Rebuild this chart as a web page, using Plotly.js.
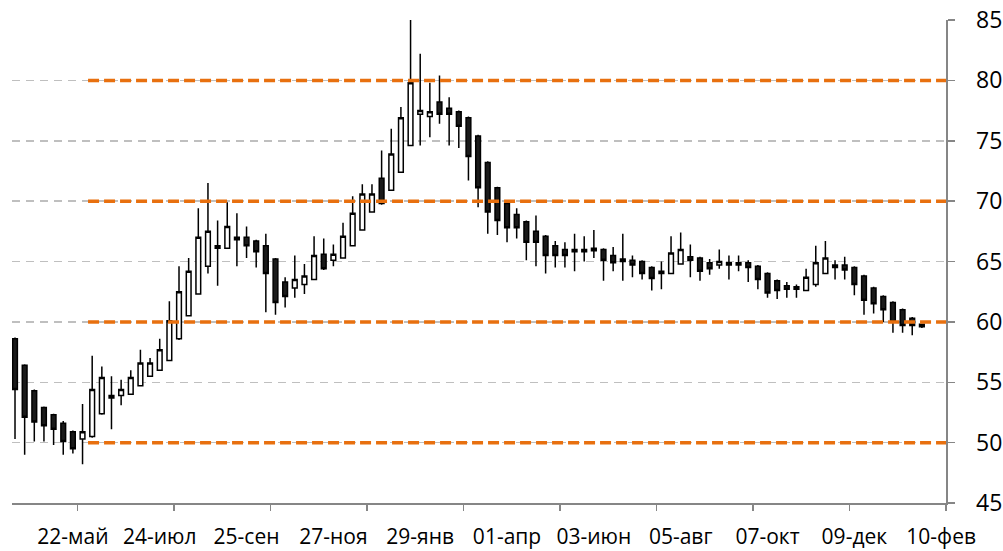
<!DOCTYPE html>
<html>
<head>
<meta charset="utf-8">
<script src="https://cdn.plot.ly/plotly-3.0.1.min.js"></script>
<style>html,body{margin:0;padding:0;background:#fff;}#chart{width:1003px;height:551px;}</style>
</head>
<body>
<div id="chart"></div>
<script>
const dates = [
'2011-04-10','2011-04-17','2011-04-24','2011-05-01','2011-05-08','2011-05-15','2011-05-22','2011-05-29',
'2011-06-05','2011-06-12','2011-06-19','2011-06-26','2011-07-03','2011-07-10','2011-07-17','2011-07-24','2011-07-31',
'2011-08-07','2011-08-14','2011-08-21','2011-08-28','2011-09-04','2011-09-11','2011-09-18','2011-09-25',
'2011-10-02','2011-10-09','2011-10-16','2011-10-23','2011-10-30','2011-11-06','2011-11-13','2011-11-20','2011-11-27',
'2011-12-04','2011-12-11','2011-12-18','2011-12-25',
'2012-01-01','2012-01-08','2012-01-15','2012-01-22','2012-01-29','2012-02-05','2012-02-12','2012-02-19','2012-02-26',
'2012-03-04','2012-03-11','2012-03-18','2012-03-25','2012-04-01','2012-04-08','2012-04-15','2012-04-22','2012-04-29',
'2012-05-06','2012-05-13','2012-05-20','2012-05-27','2012-06-03','2012-06-10','2012-06-17','2012-06-24',
'2012-07-01','2012-07-08','2012-07-15','2012-07-22','2012-07-29','2012-08-05','2012-08-12','2012-08-19','2012-08-26',
'2012-09-02','2012-09-09','2012-09-16','2012-09-23','2012-09-30','2012-10-07','2012-10-14','2012-10-21','2012-10-28',
'2012-11-04','2012-11-11','2012-11-18','2012-11-25','2012-12-02','2012-12-09','2012-12-16','2012-12-23','2012-12-30',
'2013-01-06','2013-01-13','2013-01-20','2013-01-27'
];
const openP = [
58.6,56.4,54.3,52.9,52.3,51.6,50.9,50.3,50.5,52.4,
53.9,53.9,54.0,54.7,55.5,56.0,56.8,58.6,60.5,62.3,
64.6,66.3,66.1,67.0,67.0,66.7,66.3,65.2,63.3,62.8,
63.1,63.5,65.6,65.1,65.3,66.3,67.6,69.1,71.9,70.9,
72.4,74.6,77.2,77.0,78.2,77.7,77.4,76.9,75.4,73.2,
71.1,69.8,68.9,68.3,67.5,67.1,66.3,66.0,66.0,66.0,
66.1,66.0,65.5,65.2,65.1,65.0,64.5,64.2,64.0,64.8,
65.4,65.3,64.9,64.7,64.9,64.9,64.9,64.6,64.0,63.4,
63.0,62.9,62.6,63.1,64.0,64.7,64.7,64.5,63.8,62.8,
62.1,61.6,61.0,60.3,59.8
];
const highP = [
58.7,56.5,54.4,53.0,52.4,51.8,51.0,53.2,57.2,56.3,
55.5,55.2,56.0,57.7,57.0,58.6,61.7,64.6,65.3,69.4,
71.5,68.4,69.9,69.0,67.9,66.8,67.3,65.3,63.7,65.5,
64.8,67.1,66.9,66.4,68.2,70.4,71.4,71.4,74.2,76.0,
77.8,85.0,82.2,79.8,80.4,78.6,77.5,77.0,75.5,73.3,
71.2,69.9,69.4,68.4,68.8,67.2,66.7,66.6,67.3,67.1,
67.6,66.1,66.2,67.3,65.5,65.1,64.6,65.0,67.1,67.4,
66.4,65.4,65.2,66.0,65.5,65.5,65.1,64.7,64.1,63.5,
63.3,63.1,64.4,66.3,66.7,65.1,65.4,64.6,63.9,62.9,
62.2,61.7,61.1,60.4,59.8
];
const lowP = [
50.3,49.0,50.1,50.1,49.8,49.0,49.1,48.2,50.4,52.3,
51.1,53.1,54.0,54.7,55.5,56.0,56.8,58.5,60.5,62.3,
64.0,63.0,66.1,64.6,65.3,64.5,60.8,60.6,61.2,62.0,
62.3,63.5,64.3,64.6,65.3,66.3,67.6,69.1,69.7,70.9,
72.4,74.6,74.6,75.3,76.4,74.6,74.4,71.7,69.5,67.3,
67.2,66.6,66.9,65.1,64.6,64.0,64.5,64.5,64.2,65.0,
65.3,63.4,64.2,63.4,63.7,63.5,62.6,62.7,64.0,64.8,
63.7,63.4,63.9,64.4,63.5,64.2,63.3,62.7,62.0,61.9,
62.0,62.0,62.6,62.9,64.0,63.5,63.5,62.2,60.6,60.7,
60.0,59.1,59.1,58.9,59.5
];
const closeP = [
54.4,52.1,51.7,51.4,51.1,50.1,49.5,50.9,54.4,55.4,
53.7,54.4,55.4,56.6,56.6,57.7,60.1,62.5,64.2,67.0,
67.5,66.1,67.9,66.8,66.3,65.8,64.0,61.6,62.1,63.5,
63.8,65.5,64.4,65.6,67.1,69.0,70.6,70.6,69.8,73.9,
76.9,79.8,77.5,77.4,77.2,77.2,76.2,73.7,71.1,69.1,
68.4,67.8,67.8,66.6,66.6,65.5,65.5,65.5,65.8,65.8,
65.9,65.1,64.9,65.0,64.7,64.0,63.6,64.0,65.7,66.0,
65.1,64.2,64.4,65.0,64.7,64.7,64.5,63.5,62.4,62.6,
62.7,62.7,63.7,64.9,65.3,64.5,64.3,63.1,61.8,61.5,
61.0,60.0,59.7,59.7,59.6
];
const levels = [50, 60, 70, 80];
const levelStart = '2011-06-02';
const labelDates = ['2011-05-22','2011-07-24','2011-09-25','2011-11-27','2012-01-29','2012-04-01',
                    '2012-06-03','2012-08-05','2012-10-07','2012-12-09','2013-02-10'];
const labelText = ['22-май','24-июл','25-сен','27-ноя','29-янв','01-апр','03-июн','05-авг','07-окт','09-дек','10-фев'];
const tickMarkDates = ['2011-05-25 12:00','2011-08-03 12:00','2011-10-12 12:00','2011-12-21 12:00','2012-02-29 12:00',
                       '2012-05-09 12:00','2012-07-18 12:00','2012-09-26 12:00','2012-12-05 12:00','2013-02-13 12:00'];
const yTicks = [45, 50, 55, 60, 65, 70, 75, 80, 85];

const xRange = ['2011-04-07 19:40', '2013-02-13 12:00'];
const axisGray = '#868686';
const orange = '#E8700F';

const traces = [{
  type: 'candlestick',
  x: dates, open: openP, high: highP, low: lowP, close: closeP,
  increasing: {line: {color: '#000000', width: 1.5}, fillcolor: '#ffffff'},
  decreasing: {line: {color: '#000000', width: 1.5}, fillcolor: '#1a1a1a'},
  whiskerwidth: 0,
  showlegend: false,
  hoverinfo: 'skip'
}];
levels.forEach(function (lv) {
  traces.push({
    type: 'scatter', mode: 'lines',
    x: [levelStart, xRange[1]], y: [lv, lv],
    line: {color: orange, width: 3.5, dash: '11px,5px'},
    showlegend: false, hoverinfo: 'skip'
  });
});
traces.push({type: 'scatter', x: [], y: [], xaxis: 'x2', showlegend: false, hoverinfo: 'skip'});

const fontFam = '"Open Sans", "Noto Sans", sans-serif';
const layout = {
  width: 1003, height: 551,
  margin: {l: 12, r: 57, t: 20, b: 48, pad: 0},
  paper_bgcolor: '#ffffff', plot_bgcolor: '#ffffff',
  showlegend: false,
  font: {family: fontFam, color: '#000000'},
  xaxis: {
    type: 'date', range: xRange,
    rangeslider: {visible: false},
    tickmode: 'array', tickvals: labelDates, ticktext: labelText,
    tickangle: 0, ticks: '', ticklabelstandoff: 14,
    tickfont: {size: 21, family: fontFam, color: '#000000'},
    showgrid: false, zeroline: false,
    showline: true, linecolor: axisGray, linewidth: 1.5
  },
  xaxis2: {
    type: 'date', range: xRange, overlaying: 'x', anchor: 'y', side: 'bottom',
    tickmode: 'array', tickvals: tickMarkDates, showticklabels: false,
    ticks: 'outside', ticklen: 7, tickwidth: 1.5, tickcolor: axisGray,
    showgrid: false, zeroline: false, showline: false
  },
  yaxis: {
    side: 'right', range: [45, 85],
    tickmode: 'array', tickvals: yTicks,
    ticks: 'outside', ticklen: 7, tickwidth: 1.5, tickcolor: axisGray,
    ticklabelstandoff: 17,
    tickfont: {size: 23, family: fontFam, color: '#000000'},
    showgrid: true, gridcolor: '#BFBFBF', gridwidth: 1.5, griddash: '8px,6px',
    zeroline: false,
    showline: true, linecolor: axisGray, linewidth: 1.5
  }
};

Plotly.newPlot('chart', traces, layout, {displayModeBar: false, staticPlot: true});
</script>
</body>
</html>
